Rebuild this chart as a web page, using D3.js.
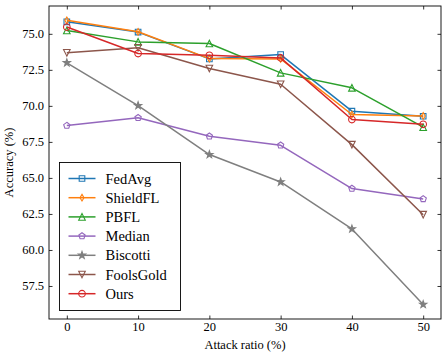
<!DOCTYPE html>
<html>
<head>
<meta charset="utf-8">
<script src="https://cdn.jsdelivr.net/npm/d3@7"></script>
<style>
  body { margin: 0; background: #fff; }
  svg text { font-family: "Liberation Serif", "DejaVu Serif", serif; fill: #000; }
</style>
</head>
<body>
<svg id="chart" width="448" height="357"></svg>
<script>
// attack ratios on the x axis
const attackRatios = [0, 10, 20, 30, 40, 50];

// accuracy (%) per method
const fedAvg    = [75.83, 75.12, 73.26, 73.56, 69.63, 69.28];
const shieldFL  = [75.94, 75.14, 73.28, 73.26, 69.40, 69.30];
const pbfl      = [75.23, 74.44, 74.33, 72.29, 71.25, 68.52];
const median    = [68.63, 69.17, 67.89, 67.26, 64.26, 63.54];
const biscotti  = [72.99, 70.02, 66.62, 64.72, 61.46, 56.22];
const foolsGold = [73.68, 74.03, 72.59, 71.50, 67.31, 62.45];
const ours      = [75.47, 73.63, 73.51, 73.33, 69.05, 68.72];

const xTicks = [0, 10, 20, 30, 40, 50];
const yTicks = [57.5, 60.0, 62.5, 65.0, 67.5, 70.0, 72.5, 75.0];

const series = [
  { name: "FedAvg",    values: fedAvg,    color: "#1f77b4", marker: "square" },
  { name: "ShieldFL",  values: shieldFL,  color: "#ff7f0e", marker: "thinDiamond" },
  { name: "PBFL",      values: pbfl,      color: "#2ca02c", marker: "triUp" },
  { name: "Median",    values: median,    color: "#9467bd", marker: "pentagon" },
  { name: "Biscotti",  values: biscotti,  color: "#7f7f7f", marker: "star" },
  { name: "FoolsGold", values: foolsGold, color: "#8c564b", marker: "triDown" },
  { name: "Ours",      values: ours,      color: "#d62728", marker: "circle" }
];

const svg = d3.select("#chart");
const margin = { top: 6, right: 7, bottom: 38, left: 49 };
const width = 448, height = 357;

const x = d3.scaleLinear().domain([-2.5, 52.5]).range([margin.left, width - margin.right]);
const y = d3.scaleLinear().domain([55.21, 76.93]).range([height - margin.bottom, margin.top]);

// marker shapes (matplotlib-like), r ~ half of marker size in px
function markerPath(kind, r) {
  const p = d3.path();
  if (kind === "square") {
    p.rect(-r * 0.85, -r * 0.85, r * 1.7, r * 1.7);
  } else if (kind === "circle") {
    p.arc(0, 0, r, 0, 2 * Math.PI);
  } else if (kind === "thinDiamond") {
    p.moveTo(0, -r); p.lineTo(r * 0.6, 0); p.lineTo(0, r); p.lineTo(-r * 0.6, 0); p.closePath();
  } else if (kind === "triUp" || kind === "triDown") {
    const s = kind === "triUp" ? 1 : -1;
    p.moveTo(0, -r * s); p.lineTo(r, r * s); p.lineTo(-r, r * s); p.closePath();
  } else if (kind === "pentagon") {
    for (let i = 0; i < 5; i++) {
      const a = -Math.PI / 2 + i * 2 * Math.PI / 5;
      const px = r * Math.cos(a), py = r * Math.sin(a);
      if (i === 0) p.moveTo(px, py); else p.lineTo(px, py);
    }
    p.closePath();
  } else if (kind === "star") {
    for (let i = 0; i < 10; i++) {
      const a = -Math.PI / 2 + i * Math.PI / 5;
      const rr = i % 2 === 0 ? r : r * 0.4;
      const px = rr * Math.cos(a), py = rr * Math.sin(a);
      if (i === 0) p.moveTo(px, py); else p.lineTo(px, py);
    }
    p.closePath();
  }
  return p.toString();
}

function drawMarker(g, kind, color, cx, cy) {
  const filled = kind === "star";
  g.append("path")
    .attr("d", markerPath(kind, kind === "star" ? 3.8 : 3.3))
    .attr("transform", `translate(${cx},${cy})`)
    .attr("fill", filled ? color : "none")
    .attr("stroke", color)
    .attr("stroke-width", 1.1);
}

// lines + markers
const line = d3.line().x((d, i) => x(attackRatios[i])).y(d => y(d));
const plot = svg.append("g");
series.forEach(s => {
  const g = plot.append("g");
  g.append("path")
    .attr("d", line(s.values))
    .attr("fill", "none")
    .attr("stroke", s.color)
    .attr("stroke-width", 1.5)
    .attr("stroke-linejoin", "round");
  s.values.forEach((v, i) => drawMarker(g, s.marker, s.color, x(attackRatios[i]), y(v)));
});

// axes with inward ticks on all four sides
const tickLen = 3.5;
svg.append("g")
  .attr("transform", `translate(0,${height - margin.bottom})`)
  .call(d3.axisBottom(x).tickValues(xTicks).tickSizeInner(-tickLen).tickSizeOuter(0).tickPadding(3).tickFormat(d3.format("d")))
  .call(g => g.select(".domain").remove())
  .call(g => g.selectAll("text").attr("font-size", 12.5).attr("dy", "0.75em"));

svg.append("g")
  .attr("transform", `translate(0,${margin.top})`)
  .call(d3.axisTop(x).tickValues(xTicks).tickSizeInner(-tickLen).tickSizeOuter(0).tickFormat(""))
  .call(g => g.select(".domain").remove());

svg.append("g")
  .attr("transform", `translate(${margin.left},0)`)
  .call(d3.axisLeft(y).tickValues(yTicks).tickSizeInner(-tickLen).tickSizeOuter(0).tickPadding(5).tickFormat(d3.format(".1f")))
  .call(g => g.select(".domain").remove())
  .call(g => g.selectAll("text").attr("font-size", 12.5));

svg.append("g")
  .attr("transform", `translate(${width - margin.right},0)`)
  .call(d3.axisRight(y).tickValues(yTicks).tickSizeInner(-tickLen).tickSizeOuter(0).tickFormat(""))
  .call(g => g.select(".domain").remove());

svg.selectAll(".tick line").attr("stroke", "#000").attr("stroke-width", 0.8);

// frame
svg.append("rect")
  .attr("x", margin.left).attr("y", margin.top)
  .attr("width", width - margin.left - margin.right)
  .attr("height", height - margin.top - margin.bottom)
  .attr("fill", "none").attr("stroke", "#000").attr("stroke-width", 0.9);

// axis labels
svg.append("text")
  .attr("x", (margin.left + width - margin.right) / 2)
  .attr("y", 349)
  .attr("text-anchor", "middle")
  .attr("font-size", 12.5)
  .text("Attack ratio (%)");

svg.append("text")
  .attr("transform", `translate(13,${(margin.top + height - margin.bottom) / 2}) rotate(-90)`)
  .attr("text-anchor", "middle")
  .attr("font-size", 12.5)
  .text("Accuracy (%)");

// legend
const legend = svg.append("g").attr("transform", "translate(59.5,162.5)");
legend.append("rect")
  .attr("width", 121).attr("height", 148)
  .attr("fill", "#fff").attr("stroke", "#000").attr("stroke-width", 0.9);
series.forEach((s, i) => {
  const yy = 16 + i * 19.2;
  legend.append("line")
    .attr("x1", 9).attr("x2", 36).attr("y1", yy).attr("y2", yy)
    .attr("stroke", s.color).attr("stroke-width", 1.5);
  drawMarker(legend, s.marker, s.color, 22.5, yy);
  legend.append("text")
    .attr("x", 46).attr("y", yy).attr("dy", "0.35em")
    .attr("font-size", 14.5)
    .text(s.name);
});
</script>
</body>
</html>
